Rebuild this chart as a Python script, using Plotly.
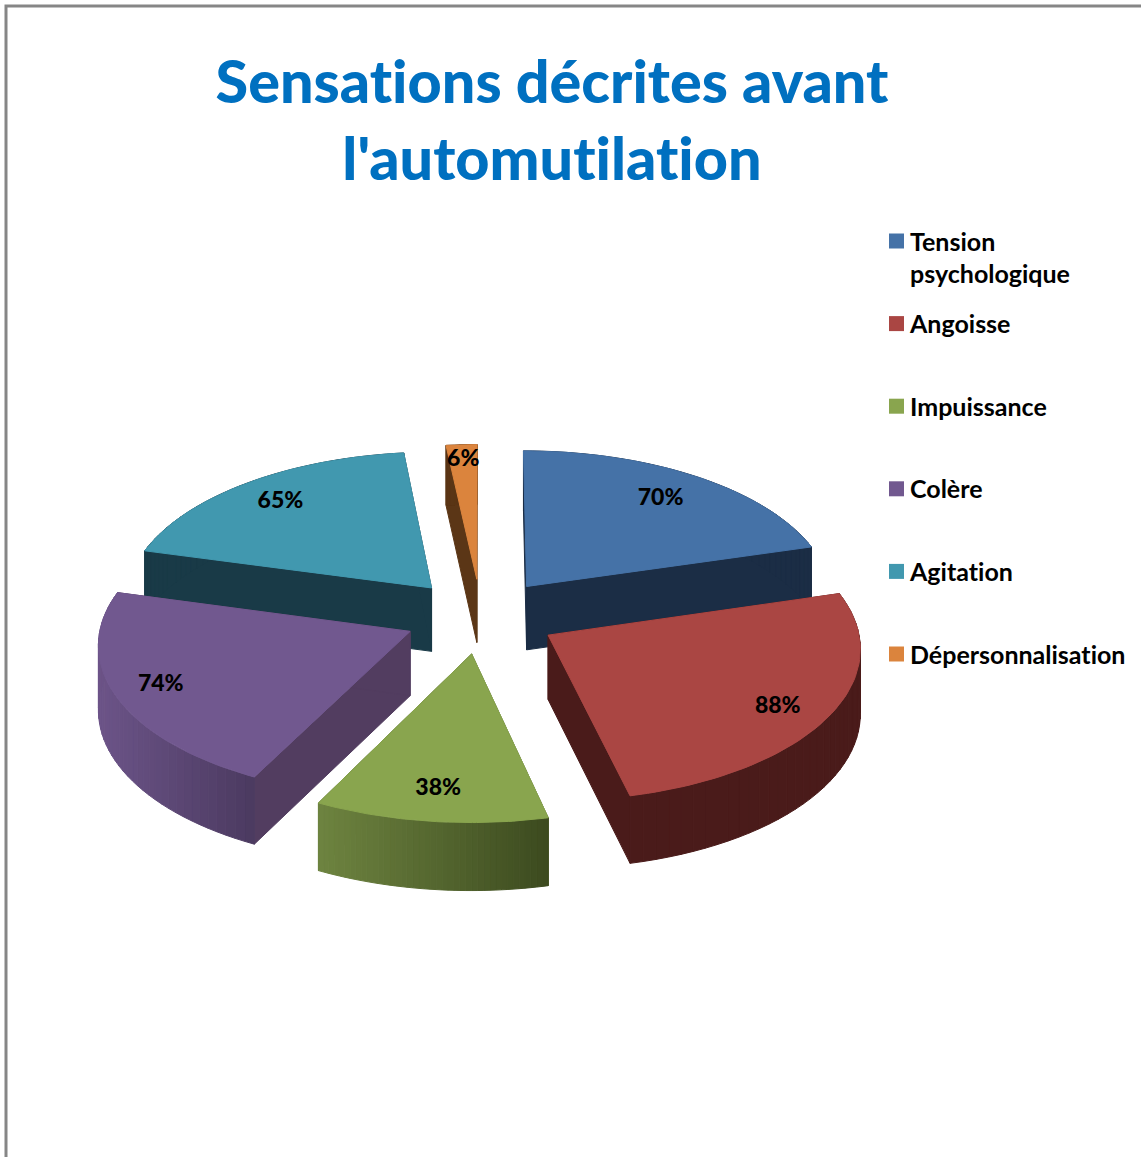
import numpy as np
import plotly.graph_objects as go

categories = ["Tension<br>psychologique", "Angoisse<br>&nbsp;", "Impuissance<br>&nbsp;", "Colère<br>&nbsp;", "Agitation<br>&nbsp;", "Dépersonnalisation<br>&nbsp;"]
values = [70, 88, 38, 74, 65, 6]
top_colors = ["#4572A7", "#AA4643", "#89A54E", "#71588F", "#4198AF", "#DB843D"]
arc_left = ["#1B2D45", "#4A1B1A", "#6E8440", "#6C5488", "#193A47", "#5B3616"]
arc_right = ["#1B2D45", "#4A1B1A", "#3C4A1F", "#4B3A60", "#193A47", "#5B3616"]
face_colors = ["#1B2D45", "#4A1B1A", "#55682F", "#523D60", "#193A47", "#5B3616"]
label_radius = [0.78, 0.84, 0.82, 0.85, 0.81, 0.88]
label_turn_deg = [0, 2.5, 0, 0, 0, 0]

CX, CY, A, B, K, H, EXPL = 481, 616, 308, 150, 0.075, 64, 0.25

def project(X, Y, z=0.0):
    X, Y = np.asarray(X, float), np.asarray(Y, float)
    s = 1 / (1 + K * Y)
    return CX + A * X * s, CY - B * Y * s + H * z * (1 - 0.05 * Y)

def hexrgb(c):
    return np.array([int(c[i:i + 2], 16) for i in (1, 3, 5)], float)

def mix(c1, c2, t):
    r = hexrgb(c1) * (1 - t) + hexrgb(c2) * t
    return "rgb(%d,%d,%d)" % tuple(r.round())

fig = go.Figure()

def poly(xs, ys, color):
    xs, ys = list(xs), list(ys)
    fig.add_trace(go.Scatter(x=xs + xs[:1], y=ys + ys[:1], mode="lines", fill="toself",
                             fillcolor=color, line=dict(color=color, width=1),
                             hoverinfo="skip", showlegend=False))

total = sum(values)
edges = np.cumsum([0] + values) / total * 2 * np.pi
slices = []
for i, v in enumerate(values):
    a0, a1 = edges[i], edges[i + 1]
    mid = (a0 + a1) / 2
    slices.append((np.cos(mid), i, a0, a1, mid))

# back slices first, so the nearer ones hide them
for _, i, a0, a1, mid in sorted(slices, key=lambda t: -t[0]):
    ox, oy = EXPL * np.sin(mid), EXPL * np.cos(mid)
    th = np.linspace(a0, a1, 60)
    RX, RY = ox + np.sin(th), oy + np.cos(th)
    # radial faces
    for a in (a0, a1):
        ex, ey = ox + np.sin(a), oy + np.cos(a)
        xa, ya = project([ox, ex], [oy, ey], 0)
        xb, yb = project([ex, ox], [ey, oy], 1)
        poly(np.r_[xa, xb], np.r_[ya, yb], face_colors[i])
    # outer wall, in bands for the shading
    n = 40
    bands = np.linspace(a0, a1, n + 1)
    sx = project(ox + np.sin(bands), oy + np.cos(bands))[0]
    lo, hi = sx.min(), sx.max()
    for j in range(n):
        t = np.linspace(bands[j], bands[j + 1], 4)
        bx, by = ox + np.sin(t), oy + np.cos(t)
        xa, ya = project(bx, by, 0)
        xb, yb = project(bx[::-1], by[::-1], 1)
        u = (0.5 * (sx[j] + sx[j + 1]) - lo) / max(hi - lo, 1)
        poly(np.r_[xa, xb], np.r_[ya, yb], mix(arc_left[i], arc_right[i], u))
    # top face
    xs, ys = project(np.r_[ox, RX], np.r_[oy, RY], 0)
    poly(xs, ys, top_colors[i])

# data labels
lx, ly, lt = [], [], []
for _, i, a0, a1, mid in slices:
    ox, oy = EXPL * np.sin(mid), EXPL * np.cos(mid)
    turned = mid + np.radians(label_turn_deg[i])
    x, y = project(ox + label_radius[i] * np.sin(turned), oy + label_radius[i] * np.cos(turned))
    lx.append(float(x)); ly.append(float(y)); lt.append(f"{values[i]}%")
fig.add_trace(go.Scatter(x=lx, y=ly, text=lt, mode="text", textposition="middle center",
                         textfont=dict(family="Lato", size=23, color="black", weight=900),
                         hoverinfo="skip", showlegend=False))

# legend entries
for i, name in enumerate(categories):
    fig.add_trace(go.Scatter(x=[None], y=[None], mode="markers", name=name,
                             legendgroup=str(i),
                             marker=dict(symbol="square", size=15, color=top_colors[i])))

fig.update_layout(
    width=1141, height=1157, autosize=False,
    margin=dict(l=0, r=0, t=0, b=0),
    paper_bgcolor="white", plot_bgcolor="white",
    xaxis=dict(range=[0, 1141], visible=False, fixedrange=True),
    yaxis=dict(range=[1157, 0], visible=False, fixedrange=True),
    title=dict(text="Sensations décrites avant<br>l'automutilation",
               font=dict(family="Lato", size=59.3, color="#0070C0", weight=900),
               x=552 / 1141, xanchor="center", y=1 - 103 / 1157, yanchor="middle"),
    legend=dict(x=870 / 1141, xanchor="left", y=1 - 218 / 1157, yanchor="top",
                font=dict(family="Lato", size=25, color="black", weight=700),
                tracegroupgap=14.6, itemsizing="trace", bgcolor="rgba(0,0,0,0)"),
    shapes=[dict(type="rect", xref="paper", yref="paper", x0=6 / 1141, x1=1.01, y0=-0.01, y1=1 - 6 / 1157,
                 line=dict(color="#868686", width=3), layer="below")],
)
post = """
document.body.style.margin='0';
document.body.style.overflow='hidden';
document.querySelectorAll('text').forEach(t=>{t.style.fontVariantLigatures='none';});
document.querySelectorAll('.legendsymbols').forEach(g=>{g.setAttribute('transform','translate(6.5,-16)');});
"""
fig.write_html("out.html", post_script=post, config={"displayModeBar": False})
